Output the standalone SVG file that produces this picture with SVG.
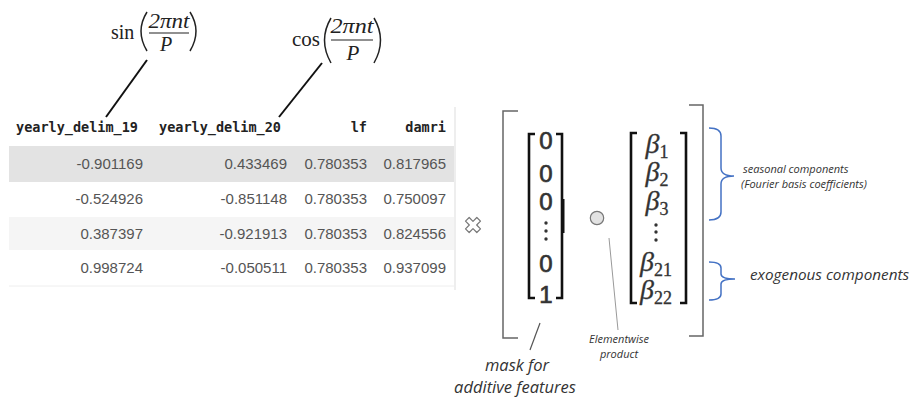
<svg xmlns="http://www.w3.org/2000/svg" width="913" height="399" viewBox="0 0 913 399">
<style>
.math{font-family:"Liberation Serif","DejaVu Serif",serif;fill:#222}
.it{font-style:italic}
.par{fill:none;stroke:#222;stroke-width:1.5}
.hdr{font-family:"DejaVu Sans Mono","Liberation Mono",monospace;font-weight:bold;font-size:13.5px;fill:#222}
.num{font-family:"Liberation Sans",Arial,sans-serif;font-size:15px;fill:#555;text-anchor:end}
.vec{font-family:"Liberation Sans",Arial,sans-serif;font-size:24px;fill:#333;stroke:#333;stroke-width:0.7;text-anchor:middle}
.beta{font-family:"Liberation Serif","DejaVu Serif",serif;font-size:28px;fill:#333;stroke:#333;stroke-width:0.3;text-anchor:middle}
.note{font-family:"Open Sans","Noto Sans",sans-serif;font-style:italic;fill:#333}
.brk{fill:none;stroke:#111;stroke-width:2.6}
.big{fill:none;stroke:#666;stroke-width:1.5}
.brace{fill:none;stroke:#4472c4;stroke-width:1.5}
.conn{fill:none;stroke:#111;stroke-width:2}
</style>
<rect width="913" height="399" fill="#fff"/>

<g id="sin-formula">
  <text class="math" x="111" y="39" font-size="20">sin</text>
  <path class="par" d="M147,12 Q135,31 147,51"/>
  <text class="math it" x="169" y="28" font-size="20" text-anchor="middle" textLength="41" lengthAdjust="spacingAndGlyphs">2πnt</text>
  <line x1="149" y1="33" x2="189" y2="33" stroke="#222" stroke-width="1.2"/>
  <text class="math it" x="166" y="51" font-size="20" text-anchor="middle">P</text>
  <path class="par" d="M190,12 Q202,31 190,51"/>
</g>

<g id="cos-formula">
  <text class="math" x="292" y="46" font-size="21">cos</text>
  <path class="par" d="M331,18 Q318,40 331,63"/>
  <text class="math it" x="352" y="33" font-size="21" text-anchor="middle" textLength="43" lengthAdjust="spacingAndGlyphs">2πnt</text>
  <line x1="331" y1="40" x2="373" y2="40" stroke="#222" stroke-width="1.2"/>
  <text class="math it" x="353" y="60" font-size="21" text-anchor="middle">P</text>
  <path class="par" d="M374,18 Q387,40 374,63"/>
</g>

<g id="table">
  <rect x="9" y="146" width="445" height="36" fill="#e3e3e3"/>
  <rect x="9" y="217" width="445" height="33" fill="#f5f5f5"/>
  <line x1="455" y1="107" x2="455" y2="290" stroke="#ddd" stroke-width="1"/>
  <line x1="9" y1="286" x2="454" y2="286" stroke="#eee" stroke-width="1"/>
  <text class="hdr" x="16" y="132">yearly_delim_19</text>
  <text class="hdr" x="159" y="132">yearly_delim_20</text>
  <text class="hdr" x="367" y="132" text-anchor="end">lf</text>
  <text class="hdr" x="446" y="132" text-anchor="end">damri</text>
  <text class="num" x="143" y="169">-0.901169</text>
  <text class="num" x="287" y="169">0.433469</text>
  <text class="num" x="367" y="169">0.780353</text>
  <text class="num" x="446" y="169">0.817965</text>
  <text class="num" x="143" y="204">-0.524926</text>
  <text class="num" x="287" y="204">-0.851148</text>
  <text class="num" x="367" y="204">0.780353</text>
  <text class="num" x="446" y="204">0.750097</text>
  <text class="num" x="143" y="239">0.387397</text>
  <text class="num" x="287" y="239">-0.921913</text>
  <text class="num" x="367" y="239">0.780353</text>
  <text class="num" x="446" y="239">0.824556</text>
  <text class="num" x="143" y="273">0.998724</text>
  <text class="num" x="287" y="273">-0.050511</text>
  <text class="num" x="367" y="273">0.780353</text>
  <text class="num" x="446" y="273">0.937099</text>
</g>

<g id="multiply">
  <path transform="translate(473,225) rotate(45)" d="M-2.6,-8 h5.2 v5.4 h5.4 v5.2 h-5.4 v5.4 h-5.2 v-5.4 h-5.4 v-5.2 h5.4 z" fill="#fff" stroke="#777" stroke-width="1.2" stroke-linejoin="round"/>
</g>

<g id="outer-bracket">
  <path class="big" d="M518,111 H503 V338 H518"/>
  <path class="big" d="M689,105 H703 V336 H689"/>
</g>

<g id="mask-vector">
  <path class="brk" d="M535,134 H529 V298 H535"/>
  <path class="brk" d="M556,134 H562 V298 H556"/>
  <rect x="561" y="199" width="3.5" height="34" fill="#111"/>
  <text class="vec" x="546" y="149">0</text>
  <text class="vec" x="546" y="182">0</text>
  <text class="vec" x="546" y="210">0</text>
  <circle cx="546" cy="223" r="1.7" fill="#333"/>
  <circle cx="546" cy="231" r="1.7" fill="#333"/>
  <circle cx="546" cy="239" r="1.7" fill="#333"/>
  <text class="vec" x="546" y="272">0</text>
  <text class="vec" x="546" y="303">1</text>
</g>

<g id="elementwise-op">
  <circle cx="597" cy="218" r="6.7" fill="#e2e2e2" stroke="#777" stroke-width="1.2"/>
</g>

<g id="beta-vector">
  <path class="brk" d="M637,133 H631 V303 H637"/>
  <path class="brk" d="M680,133 H686 V303 H680"/>
  <text class="beta" x="657" y="153"><tspan font-style="italic">β</tspan><tspan font-size="18" dy="5">1</tspan></text>
  <text class="beta" x="657" y="181"><tspan font-style="italic">β</tspan><tspan font-size="18" dy="5">2</tspan></text>
  <text class="beta" x="657" y="210"><tspan font-style="italic">β</tspan><tspan font-size="18" dy="5">3</tspan></text>
  <circle cx="656" cy="225" r="1.7" fill="#333"/>
  <circle cx="656" cy="232" r="1.7" fill="#333"/>
  <circle cx="656" cy="240" r="1.7" fill="#333"/>
  <text class="beta" x="656" y="271"><tspan font-style="italic">β</tspan><tspan font-size="18" dy="5">21</tspan></text>
  <text class="beta" x="656" y="299"><tspan font-style="italic">β</tspan><tspan font-size="18" dy="5">22</tspan></text>
</g>

<g id="seasonal-brace">
  <path class="brace" d="M709,128 Q721,128 721,136 V168 Q721,176 734,176 Q721,176 721,184 V212 Q721,220 709,220"/>
  <text class="note" x="743" y="173" font-size="11">seasonal components</text>
  <text class="note" x="741" y="188" font-size="11">(Fourier basis coefficients)</text>
</g>

<g id="exogenous-brace">
  <path class="brace" d="M709,262 Q721,262 721,268 V274 Q721,279 735,279 Q721,279 721,284 V294 Q721,300 709,300"/>
  <text class="note" x="750" y="280" font-size="15.3">exogenous components</text>
</g>

<g id="mask-label">
  <text class="note" x="517" y="371" font-size="16.5" text-anchor="middle" fill="#222">mask for</text>
  <text class="note" x="515" y="393" font-size="16.5" text-anchor="middle" fill="#222">additive features</text>
</g>

<g id="elementwise-label">
  <text class="note" x="619" y="343" font-size="11" text-anchor="middle">Elementwise</text>
  <text class="note" x="619" y="358" font-size="11" text-anchor="middle">product</text>
</g>

<g id="connectors">
  <line class="conn" x1="147" y1="60" x2="106" y2="117"/>
  <line class="conn" x1="322" y1="63" x2="279" y2="117"/>
  <line x1="540" y1="323" x2="530" y2="350" stroke="#555" stroke-width="1.2"/>
  <line x1="609" y1="238" x2="618" y2="330" stroke="#999" stroke-width="1"/>
</g>
</svg>
